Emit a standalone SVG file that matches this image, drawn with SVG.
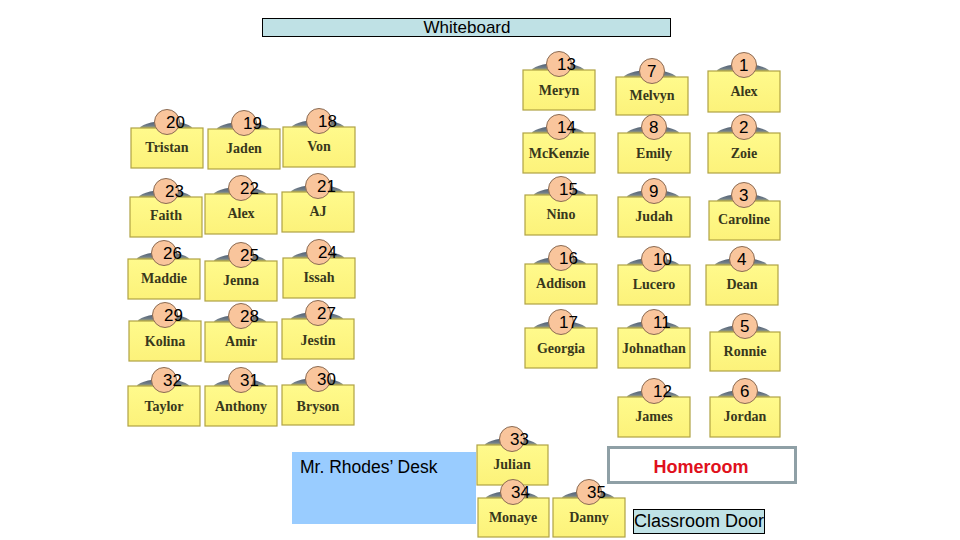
<svg xmlns="http://www.w3.org/2000/svg" width="960" height="540" viewBox="0 0 960 540">
<defs>
<linearGradient id="chair" x1="0" y1="0" x2="0" y2="1">
<stop offset="0" stop-color="#4c5b6e"/>
<stop offset="0.25" stop-color="#6f7c88"/>
<stop offset="0.42" stop-color="#b4b46c"/>
<stop offset="0.6" stop-color="#e6df6c"/>
<stop offset="1" stop-color="#e8e070"/>
</linearGradient>
<linearGradient id="desk" x1="0" y1="0" x2="0" y2="1">
<stop offset="0" stop-color="#fffa8c"/>
<stop offset="1" stop-color="#fcf27a"/>
</linearGradient>
<style>
.chair{fill:url(#chair)}
.top{fill:url(#desk);stroke:#b0a244;stroke-width:1.2}
.seat{fill:#f9c59c;stroke:#8a6a52;stroke-width:1}
.num{font-family:"Liberation Sans",Arial,sans-serif;font-size:17px;fill:#000}
.name{font-family:"Liberation Serif","Times New Roman",serif;font-weight:bold;font-size:14px;fill:#38381c;text-anchor:middle}
.label{font-family:"Liberation Sans",Arial,sans-serif;fill:#000}
</style>
</defs>
<rect width="960" height="540" fill="#ffffff"/>

<g id="whiteboard">
<rect x="262.5" y="18.5" width="408" height="18" fill="#bfe1e5" stroke="#000" stroke-width="1"/>
<text class="label" x="467" y="33" font-size="17" text-anchor="middle">Whiteboard</text>
</g>

<g id="teacher-desk">
<rect x="292" y="452" width="184" height="72" fill="#99ccff"/>
<text class="label" x="300" y="473" font-size="17.5">Mr. Rhodes’ Desk</text>
</g>

<g id="homeroom">
<rect x="608.5" y="447.5" width="187" height="35" fill="#fff" stroke="#8fa0a6" stroke-width="3"/>
<text x="701" y="473" font-family="'Liberation Sans',Arial,sans-serif" font-weight="bold" font-size="18" fill="#e0101c" text-anchor="middle">Homeroom</text>
</g>

<g id="door">
<rect x="633.5" y="509.5" width="131" height="24" fill="#c0e2e6" stroke="#000" stroke-width="1"/>
<text class="label" x="699" y="527" font-size="18" text-anchor="middle">Classroom Door</text>
</g>

<g id="desk-20"><ellipse class="chair" cx="166" cy="130" rx="27" ry="9"/><rect class="top" x="131" y="128" width="72" height="40"/><circle class="seat" cx="167" cy="122" r="12.5"/><text class="num" x="166" y="128">20</text><text class="name" x="167" y="152">Tristan</text></g>
<g id="desk-19"><ellipse class="chair" cx="243" cy="131" rx="27" ry="9"/><rect class="top" x="208" y="129" width="72" height="40"/><circle class="seat" cx="244" cy="123" r="12.5"/><text class="num" x="243" y="129">19</text><text class="name" x="244" y="153">Jaden</text></g>
<g id="desk-18"><ellipse class="chair" cx="318" cy="129" rx="27" ry="9"/><rect class="top" x="283" y="127" width="72" height="40"/><circle class="seat" cx="319" cy="121" r="12.5"/><text class="num" x="318" y="127">18</text><text class="name" x="319" y="151">Von</text></g>

<g id="desk-23"><ellipse class="chair" cx="165" cy="199" rx="27" ry="9"/><rect class="top" x="130" y="197" width="72" height="40"/><circle class="seat" cx="166" cy="191" r="12.5"/><text class="num" x="165" y="197">23</text><text class="name" x="166" y="220">Faith</text></g>
<g id="desk-22"><ellipse class="chair" cx="240" cy="196" rx="27" ry="9"/><rect class="top" x="205" y="194" width="72" height="40"/><circle class="seat" cx="241" cy="188" r="12.5"/><text class="num" x="240" y="194">22</text><text class="name" x="241" y="218">Alex</text></g>
<g id="desk-21"><ellipse class="chair" cx="317" cy="194" rx="27" ry="9"/><rect class="top" x="282" y="192" width="72" height="40"/><circle class="seat" cx="318" cy="186" r="12.5"/><text class="num" x="317" y="192">21</text><text class="name" x="318" y="216">AJ</text></g>

<g id="desk-26"><ellipse class="chair" cx="163" cy="261" rx="27" ry="9"/><rect class="top" x="128" y="259" width="72" height="40"/><circle class="seat" cx="164" cy="253" r="12.5"/><text class="num" x="163" y="259">26</text><text class="name" x="164" y="283">Maddie</text></g>
<g id="desk-25"><ellipse class="chair" cx="240" cy="263" rx="27" ry="9"/><rect class="top" x="205" y="261" width="72" height="40"/><circle class="seat" cx="241" cy="255" r="12.5"/><text class="num" x="240" y="261">25</text><text class="name" x="241" y="285">Jenna</text></g>
<g id="desk-24"><ellipse class="chair" cx="318" cy="260" rx="27" ry="9"/><rect class="top" x="283" y="258" width="72" height="40"/><circle class="seat" cx="319" cy="252" r="12.5"/><text class="num" x="318" y="258">24</text><text class="name" x="319" y="282">Issah</text></g>

<g id="desk-29"><ellipse class="chair" cx="164" cy="323" rx="27" ry="9"/><rect class="top" x="129" y="321" width="72" height="40"/><circle class="seat" cx="165" cy="315" r="12.5"/><text class="num" x="164" y="321">29</text><text class="name" x="165" y="346">Kolina</text></g>
<g id="desk-28"><ellipse class="chair" cx="240" cy="324" rx="27" ry="9"/><rect class="top" x="205" y="322" width="72" height="40"/><circle class="seat" cx="241" cy="316" r="12.5"/><text class="num" x="240" y="322">28</text><text class="name" x="241" y="346">Amir</text></g>
<g id="desk-27"><ellipse class="chair" cx="317" cy="321" rx="27" ry="9"/><rect class="top" x="282" y="319" width="72" height="40"/><circle class="seat" cx="318" cy="313" r="12.5"/><text class="num" x="317" y="319">27</text><text class="name" x="318" y="345">Jestin</text></g>

<g id="desk-32"><ellipse class="chair" cx="163" cy="388" rx="27" ry="9"/><rect class="top" x="128" y="386" width="72" height="40"/><circle class="seat" cx="164" cy="380" r="12.5"/><text class="num" x="163" y="386">32</text><text class="name" x="164" y="411">Taylor</text></g>
<g id="desk-31"><ellipse class="chair" cx="240" cy="388" rx="27" ry="9"/><rect class="top" x="205" y="386" width="72" height="40"/><circle class="seat" cx="241" cy="380" r="12.5"/><text class="num" x="240" y="386">31</text><text class="name" x="241" y="411">Anthony</text></g>
<g id="desk-30"><ellipse class="chair" cx="317" cy="387" rx="27" ry="9"/><rect class="top" x="282" y="385" width="72" height="40"/><circle class="seat" cx="318" cy="379" r="12.5"/><text class="num" x="317" y="385">30</text><text class="name" x="318" y="411">Bryson</text></g>

<g id="desk-13"><ellipse class="chair" cx="558" cy="72" rx="27" ry="9"/><rect class="top" x="523" y="70" width="72" height="40"/><circle class="seat" cx="559" cy="64" r="12.5"/><text class="num" x="557" y="70">13</text><text class="name" x="559" y="95">Meryn</text></g>
<g id="desk-7"><ellipse class="chair" cx="650" cy="79" rx="27" ry="9"/><rect class="top" x="616" y="77" width="72" height="38"/><circle class="seat" cx="652" cy="71" r="12.5"/><text class="num" x="647" y="77">7</text><text class="name" x="652" y="100">Melvyn</text></g>
<g id="desk-1"><ellipse class="chair" cx="743" cy="73" rx="27" ry="9"/><rect class="top" x="708" y="71" width="72" height="41"/><circle class="seat" cx="744" cy="65" r="12.5"/><text class="num" x="739" y="71">1</text><text class="name" x="744" y="96">Alex</text></g>

<g id="desk-14"><ellipse class="chair" cx="558" cy="135" rx="27" ry="9"/><rect class="top" x="523" y="133" width="72" height="40"/><circle class="seat" cx="559" cy="127" r="12.5"/><text class="num" x="557" y="133">14</text><text class="name" x="559" y="158">McKenzie</text></g>
<g id="desk-8"><ellipse class="chair" cx="653" cy="135" rx="27" ry="9"/><rect class="top" x="618" y="133" width="72" height="40"/><circle class="seat" cx="654" cy="127" r="12.5"/><text class="num" x="649" y="133">8</text><text class="name" x="654" y="158">Emily</text></g>
<g id="desk-2"><ellipse class="chair" cx="743" cy="135" rx="27" ry="9"/><rect class="top" x="708" y="133" width="72" height="40"/><circle class="seat" cx="744" cy="127" r="12.5"/><text class="num" x="739" y="133">2</text><text class="name" x="744" y="158">Zoie</text></g>

<g id="desk-15"><ellipse class="chair" cx="560" cy="197" rx="27" ry="9"/><rect class="top" x="525" y="195" width="72" height="40"/><circle class="seat" cx="561" cy="189" r="12.5"/><text class="num" x="559" y="195">15</text><text class="name" x="561" y="219">Nino</text></g>
<g id="desk-9"><ellipse class="chair" cx="653" cy="199" rx="27" ry="9"/><rect class="top" x="618" y="197" width="72" height="40"/><circle class="seat" cx="654" cy="191" r="12.5"/><text class="num" x="649" y="197">9</text><text class="name" x="654" y="221">Judah</text></g>
<g id="desk-3"><ellipse class="chair" cx="743" cy="203" rx="27" ry="9"/><rect class="top" x="709" y="201" width="71" height="39"/><circle class="seat" cx="744" cy="195" r="12.5"/><text class="num" x="739" y="201">3</text><text class="name" x="744" y="224">Caroline</text></g>

<g id="desk-16"><ellipse class="chair" cx="560" cy="266" rx="27" ry="9"/><rect class="top" x="525" y="264" width="72" height="40"/><circle class="seat" cx="561" cy="258" r="12.5"/><text class="num" x="559" y="264">16</text><text class="name" x="561" y="288">Addison</text></g>
<g id="desk-10"><ellipse class="chair" cx="653" cy="267" rx="27" ry="9"/><rect class="top" x="618" y="265" width="72" height="40"/><circle class="seat" cx="654" cy="259" r="12.5"/><text class="num" x="653" y="265">10</text><text class="name" x="654" y="289">Lucero</text></g>
<g id="desk-4"><ellipse class="chair" cx="741" cy="267" rx="27" ry="9"/><rect class="top" x="706" y="265" width="72" height="40"/><circle class="seat" cx="742" cy="259" r="12.5"/><text class="num" x="737" y="265">4</text><text class="name" x="742" y="289">Dean</text></g>

<g id="desk-17"><ellipse class="chair" cx="560" cy="330" rx="27" ry="9"/><rect class="top" x="525" y="328" width="72" height="40"/><circle class="seat" cx="561" cy="322" r="12.5"/><text class="num" x="559" y="328">17</text><text class="name" x="561" y="353">Georgia</text></g>
<g id="desk-11"><ellipse class="chair" cx="653" cy="330" rx="27" ry="9"/><rect class="top" x="618" y="328" width="72" height="40"/><circle class="seat" cx="654" cy="322" r="12.5"/><text class="num" x="653" y="328">11</text><text class="name" x="654" y="353">Johnathan</text></g>
<g id="desk-5"><ellipse class="chair" cx="744" cy="334" rx="27" ry="9"/><rect class="top" x="710" y="332" width="70" height="39"/><circle class="seat" cx="745" cy="326" r="12.5"/><text class="num" x="740" y="332">5</text><text class="name" x="745" y="356">Ronnie</text></g>

<g id="desk-12"><ellipse class="chair" cx="653" cy="399" rx="27" ry="9"/><rect class="top" x="618" y="397" width="72" height="40"/><circle class="seat" cx="654" cy="391" r="12.5"/><text class="num" x="653" y="397">12</text><text class="name" x="654" y="421">James</text></g>
<g id="desk-6"><ellipse class="chair" cx="744" cy="399" rx="27" ry="9"/><rect class="top" x="710" y="397" width="70" height="40"/><circle class="seat" cx="745" cy="391" r="12.5"/><text class="num" x="740" y="397">6</text><text class="name" x="745" y="421">Jordan</text></g>

<g id="desk-33"><ellipse class="chair" cx="511" cy="447" rx="27" ry="9"/><rect class="top" x="477" y="445" width="71" height="40"/><circle class="seat" cx="512" cy="439" r="12.5"/><text class="num" x="510" y="445">33</text><text class="name" x="512" y="469">Julian</text></g>
<g id="desk-34"><ellipse class="chair" cx="512" cy="500" rx="27" ry="9"/><rect class="top" x="478" y="498" width="71" height="39"/><circle class="seat" cx="513" cy="492" r="12.5"/><text class="num" x="511" y="498">34</text><text class="name" x="513" y="522">Monaye</text></g>
<g id="desk-35"><ellipse class="chair" cx="588" cy="500" rx="27" ry="9"/><rect class="top" x="553" y="498" width="72" height="39"/><circle class="seat" cx="589" cy="492" r="12.5"/><text class="num" x="587" y="498">35</text><text class="name" x="589" y="522">Danny</text></g>

<g id="connectors"></g>
</svg>
